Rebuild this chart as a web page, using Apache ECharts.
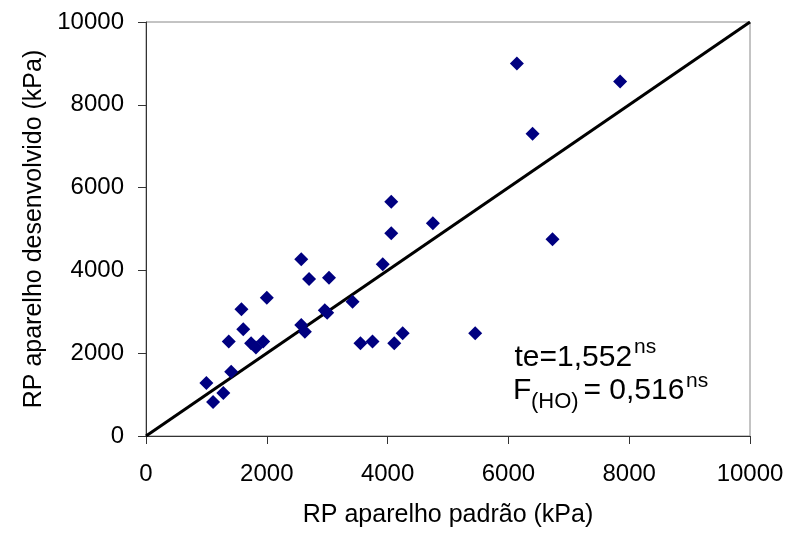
<!DOCTYPE html>
<html>
<head>
<meta charset="utf-8">
<script src="https://cdn.jsdelivr.net/npm/echarts@6/dist/echarts.min.js"></script>
<style>html,body{margin:0;padding:0;background:#fff}#c{width:789px;height:535px}</style>
</head>
<body>
<div id="c"></div>
<script>
// RP aparelho padrão (kPa)
const xValues = [1000, 1110, 1280, 1370, 1410, 1580, 1610, 1740, 1820, 1940, 2000, 2570, 2570, 2630, 2700, 2960, 3000, 3030, 3420, 3550, 3750, 3920, 4060, 4060, 4110, 4250, 4750, 5450, 6140, 6400, 6730, 7850];
// RP aparelho desenvolvido (kPa)
const yValues = [1280, 820, 1040, 2280, 1550, 3060, 2580, 2240, 2140, 2280, 3340, 4270, 2680, 2520, 3790, 3040, 2980, 3820, 3240, 2240, 2280, 4150, 5660, 4900, 2240, 2480, 5140, 2480, 9000, 7300, 4750, 8560];
// 1:1 line
const lineX = [0, 10000];
const lineY = [0, 10000];
const axisMin = 0, axisMax = 10000, axisStep = 2000;
const xTitle = 'RP aparelho padrão (kPa)';
const yTitle = 'RP aparelho desenvolvido (kPa)';

const FONT = 'Liberation Sans, Arial, sans-serif';
const chart = echarts.init(document.getElementById('c'), null, {renderer: 'canvas'});
const pts = xValues.map((x, i) => [x, yValues[i]]);
const linePts = lineX.map((x, i) => [x, lineY[i]]);
const fmt = v => String(v);

const axisCommon = {
  type: 'value', min: axisMin, max: axisMax, interval: axisStep,
  splitLine: {show: false},
  axisLine: {show: true, onZero: false, lineStyle: {color: '#333', width: 1}},
  axisTick: {show: true, inside: false, length: 8, lineStyle: {color: '#333', width: 1}},
  nameLocation: 'middle',
  nameTextStyle: {fontFamily: FONT, fontSize: 25, color: '#000'}
};

chart.setOption({
  animation: false,
  backgroundColor: '#fff',
  grid: {left: 146, right: 39, top: 22, bottom: 99, show: true, borderColor: '#888', borderWidth: 1, backgroundColor: 'transparent'},
  xAxis: Object.assign({}, axisCommon, {
    name: xTitle, nameGap: 67,
    axisLabel: {margin: 26, fontFamily: FONT, fontSize: 24, color: '#000', formatter: fmt}
  }),
  yAxis: Object.assign({}, axisCommon, {
    name: yTitle, nameGap: 97,
    axisLabel: {margin: 22, fontFamily: FONT, fontSize: 24, color: '#000', formatter: fmt}
  }),
  series: [
    {type: 'line', data: linePts, symbol: 'none', lineStyle: {color: '#000', width: 3}, z: 2},
    {type: 'scatter', data: pts, symbol: 'diamond', symbolSize: 14, itemStyle: {color: '#000080', opacity: 1}, z: 3}
  ],
  graphic: [
    {type: 'text', x: 514.5, y: 358, style: {text: 'te=1,552', fontFamily: FONT, fontSize: 30, fill: '#000', textVerticalAlign: 'middle'}},
    {type: 'text', x: 634, y: 347.7, style: {text: 'ns', fontFamily: FONT, fontSize: 21, fill: '#000', textVerticalAlign: 'middle'}},
    {type: 'text', x: 513, y: 390.5, style: {text: 'F', fontFamily: FONT, fontSize: 30, fill: '#000', textVerticalAlign: 'middle'}},
    {type: 'text', x: 531, y: 401.7, style: {text: '(HO)', fontFamily: FONT, fontSize: 22, fill: '#000', textVerticalAlign: 'middle'}},
    {type: 'text', x: 583.5, y: 390.5, style: {text: '= 0,516', fontFamily: FONT, fontSize: 30, fill: '#000', textVerticalAlign: 'middle'}},
    {type: 'text', x: 686, y: 381, style: {text: 'ns', fontFamily: FONT, fontSize: 21, fill: '#000', textVerticalAlign: 'middle'}}
  ]
});
</script>
</body>
</html>
